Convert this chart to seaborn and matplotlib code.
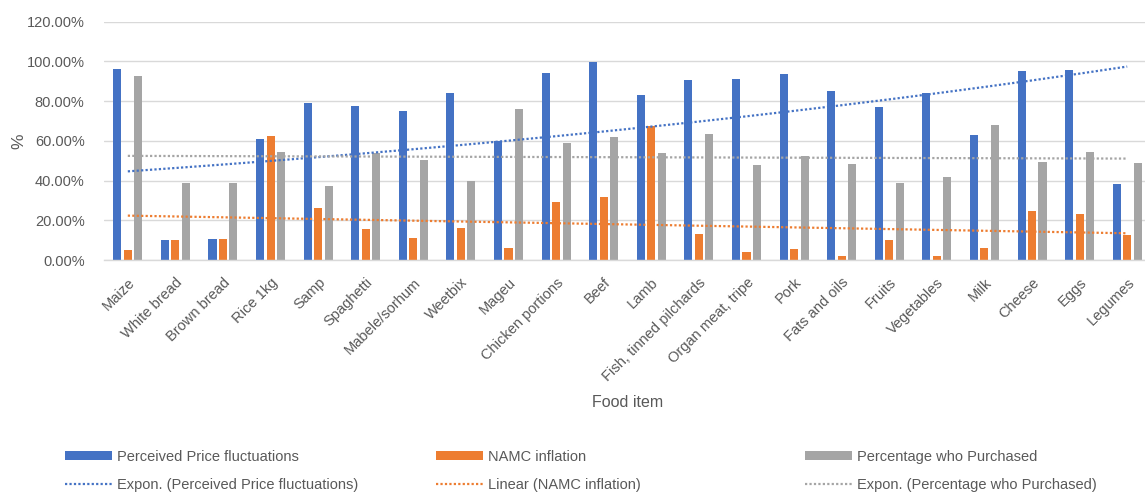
import numpy as np
import pandas as pd
import matplotlib
matplotlib.use("Agg")
import matplotlib.pyplot as plt
import seaborn as sns
from matplotlib.lines import Line2D
from matplotlib.patches import Patch

# Food items and the three measured series (values in percent)
food_items = ["Maize", "White bread", "Brown bread", "Rice 1kg", "Samp", "Spaghetti",
              "Mabele/sorhum", "Weetbix", "Mageu", "Chicken portions", "Beef", "Lamb",
              "Fish, tinned pilchards", "Organ meat, tripe", "Pork", "Fats and oils",
              "Fruits", "Vegetables", "Milk", "Cheese", "Eggs", "Legumes"]
perceived = [96.3, 10.0, 10.6, 60.8, 78.9, 77.5, 74.9, 84.3, 59.8, 94.0, 99.8,
             83.3, 90.8, 91.3, 93.5, 85.3, 77.0, 84.1, 62.8, 95.3, 95.8, 38.2]
namc = [5.0, 10.0, 10.6, 62.2, 26.1, 15.6, 11.0, 15.9, 5.9, 29.3, 31.8,
        67.7, 12.9, 3.9, 5.4, 2.2, 10.2, 2.2, 5.9, 24.5, 23.1, 12.4]
purchased = [92.6, 38.7, 38.7, 54.6, 37.3, 53.9, 50.4, 39.9, 75.9, 58.8, 61.7,
             54.1, 63.3, 47.6, 52.3, 48.2, 38.8, 42.0, 68.2, 49.6, 54.6, 48.7]

series_names = ["Perceived Price fluctuations", "NAMC inflation", "Percentage who Purchased"]
trend_labels = ["Expon. (Perceived Price fluctuations)", "Linear (NAMC inflation)",
                "Expon. (Percentage who Purchased)"]
colors = ["#4472C4", "#ED7D31", "#A5A5A5"]
y_ticks = [0, 20, 40, 60, 80, 100, 120]

sns.set_theme(style="white")
plt.rcParams["font.family"] = ["Liberation Sans", "DejaVu Sans"]
text_color = "#595959"
grid_color = "#D9D9D9"
fs = 10.5

df = pd.DataFrame({
    "item": food_items * 3,
    "value": perceived + namc + purchased,
    "series": sum([[s] * len(food_items) for s in series_names], []),
})

W, H = 1145, 492
fig = plt.figure(figsize=(W / 100, H / 100), dpi=100)
ax = fig.add_axes([104 / W, (H - 260) / H, (1151 - 104) / W, (260 - 21.7) / H])

sns.barplot(data=df, x="item", y="value", hue="series", hue_order=series_names,
            palette=colors, saturation=1, width=0.66, gap=0.23, errorbar=None,
            linewidth=0, legend=False, ax=ax, zorder=2)

# Trend lines: exponential fits for two series, linear for NAMC inflation
x = np.arange(len(food_items))
xf = x + 1
b1, a1 = np.polyfit(xf, np.log(perceived), 1)
trend_perceived = np.exp(a1 + b1 * xf)
b2, a2 = np.polyfit(xf, namc, 1)
trend_namc = a2 + b2 * xf
b3, a3 = np.polyfit(xf, np.log(purchased), 1)
trend_purchased = np.exp(a3 + b3 * xf)

dot_style = dict(linestyle=(0, (1, 1)), linewidth=1.6, zorder=4)
ax.plot(x, trend_perceived, color=colors[0], **dot_style)
ax.plot(x, trend_namc, color=colors[1], **dot_style)
ax.plot(x, trend_purchased, color=colors[2], **dot_style)

# Axes styling
ax.set_xlim(-0.5, len(food_items) - 0.5)
ax.set_ylim(0, 120)
ax.set_yticks(y_ticks)
ax.set_yticklabels([f"{v:.2f}%" for v in y_ticks], color=text_color, fontsize=fs)
ax.tick_params(axis="y", length=0, pad=14)
ax.yaxis.grid(True, color=grid_color, linewidth=1)
ax.set_axisbelow(True)

ax.set_xticks(x)
ax.set_xticklabels(food_items, rotation=45, ha="right", rotation_mode="anchor",
                   color=text_color, fontsize=fs)
ax.tick_params(axis="x", which="major", length=0, pad=11)
ax.set_xticks(np.arange(-0.5, len(food_items), 1), minor=True)
ax.tick_params(axis="x", which="minor", length=5, color=grid_color, width=1)

for side in ["top", "right", "left"]:
    ax.spines[side].set_visible(False)
ax.spines["bottom"].set_color(grid_color)
ax.spines["bottom"].set_linewidth(1)

ax.set_ylabel("%", color=text_color, fontsize=fs + 2)
ax.yaxis.set_label_coords(-0.074, 0.5)
ax.set_xlabel("Food item", color=text_color, fontsize=fs + 1)
ax.xaxis.set_label_coords(0.5, -0.565)

# Legend: one column per series, bar on top and its trend line below
col_x = [65, 436, 805]
for name, tl, c, cx in zip(series_names, trend_labels, colors, col_x):
    handles = [Patch(facecolor=c, edgecolor="none"),
               Line2D([0], [0], color=c, linestyle=(0, (1, 1)), linewidth=1.6)]
    leg = fig.legend(handles, [name, tl], loc="upper left",
                     bbox_to_anchor=(cx / W, 1 - 450 / H), frameon=False,
                     fontsize=fs, handlelength=3.2, handleheight=0.6,
                     handletextpad=0.35, labelspacing=0.95,
                     borderpad=0, borderaxespad=0)
    for t in leg.get_texts():
        t.set_color(text_color)

fig.savefig("out.png", dpi=100)
